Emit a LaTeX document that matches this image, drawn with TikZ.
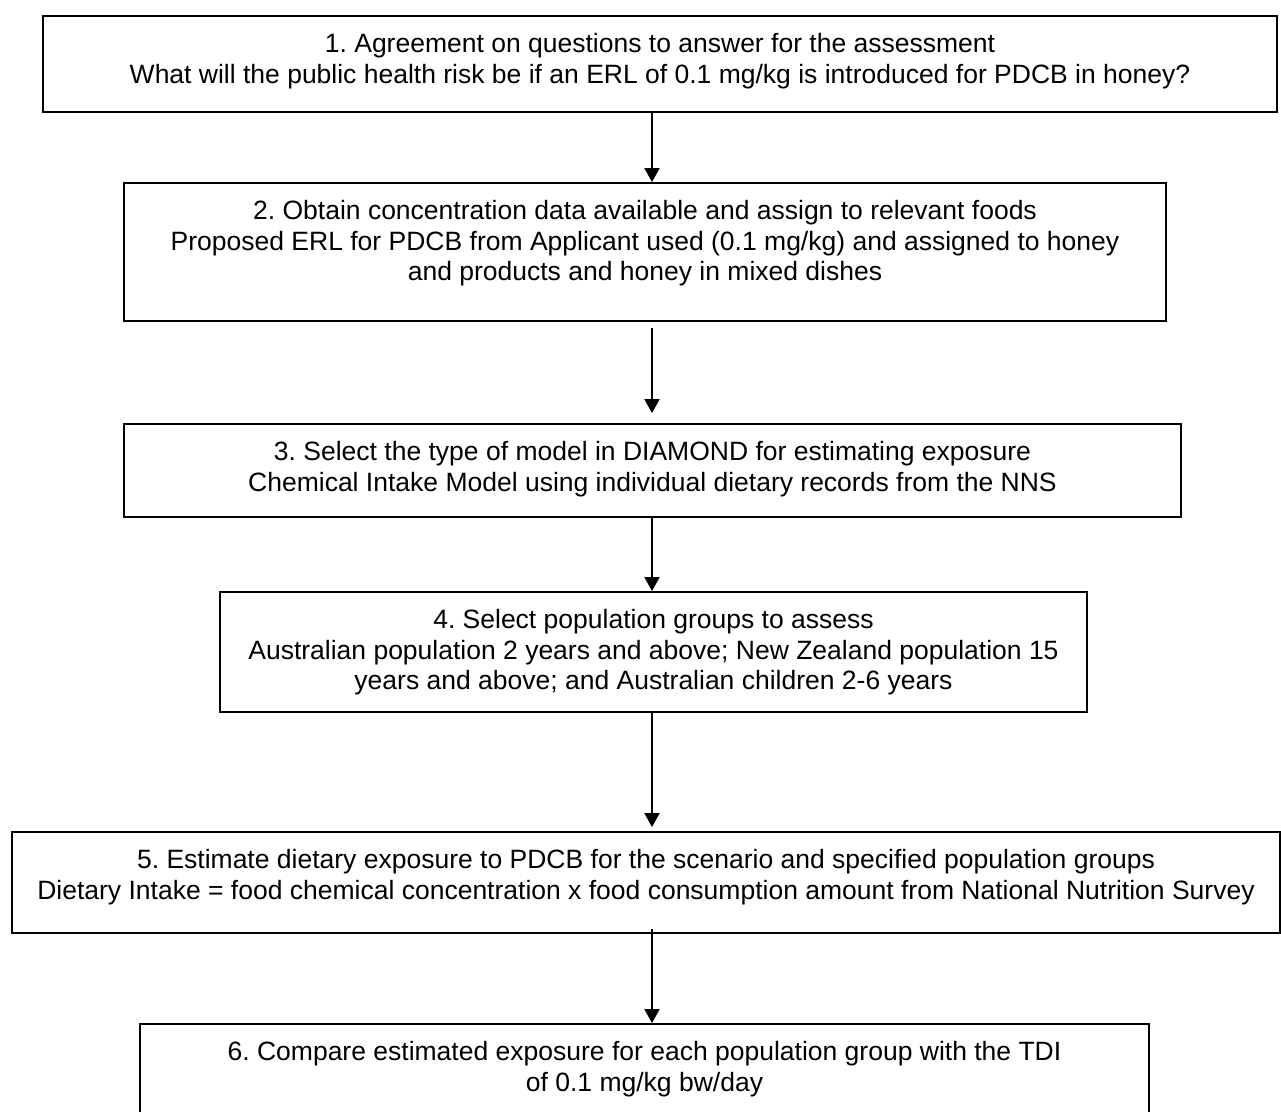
\documentclass[tikz,border=0pt]{standalone}
\usepackage{fontspec}
\setmainfont{Liberation Sans}
\usetikzlibrary{arrows.meta}
\frenchspacing
\begin{document}
\begin{tikzpicture}[x=1pt,y=-1pt,
  boxst/.style={draw, line width=1.8pt, inner sep=0pt},
  txt/.style={anchor=north, inner sep=0pt, align=center, font=\fontsize{26.5}{30.5}\selectfont},
  arr/.style={line width=1.8pt, -{Triangle[width=15pt,length=14pt]}}]
\path[use as bounding box] (0,0) rectangle (1281,1111);
\clip (0,0) rectangle (1281,1111);
\node[boxst, minimum width=1234pt, minimum height=96pt] (b1) at (660,64) {};
\node[boxst, minimum width=1042pt, minimum height=138pt] (b2) at (645,252) {};
\node[boxst, minimum width=1057pt, minimum height=93pt] (b3) at (652.5,470.5) {};
\node[boxst, minimum width=867pt, minimum height=120pt] (b4) at (653.5,652) {};
\node[boxst, minimum width=1268pt, minimum height=101pt] (b5) at (646,882.5) {};
\node[boxst, minimum width=1009pt, minimum height=116pt] (b6) at (644.5,1082) {};
\node[txt] (t1) at ([yshift=-18pt]b1.north) {1. Agreement on questions to answer for the assessment\\What will the public health risk be if an ERL of 0.1 mg/kg is introduced for PDCB in honey?};
\node[txt] (t2) at ([yshift=-18pt]b2.north) {2. Obtain concentration data available and assign to relevant foods\\Proposed ERL for PDCB from Applicant used (0.1 mg/kg) and assigned to honey\\and products and honey in mixed dishes};
\node[txt] (t3) at ([yshift=-18pt]b3.north) {3. Select the type of model in DIAMOND for estimating exposure\\Chemical Intake Model using individual dietary records from the NNS};
\node[txt] (t4) at ([yshift=-18pt]b4.north) {4. Select population groups to assess\\Australian population 2 years and above; New Zealand population 15\\years and above; and Australian children 2-6 years};
\node[txt] (t5) at ([yshift=-18pt]b5.north) {5. Estimate dietary exposure to PDCB for the scenario and specified population groups\\Dietary Intake = food chemical concentration x food consumption amount from National Nutrition Survey};
\node[txt] (t6) at ([yshift=-18pt]b6.north) {6. Compare estimated exposure for each population group with the TDI\\of 0.1 mg/kg bw/day};
\coordinate (ax) at (652,0);
\draw[arr] (b1.south -| ax) -- (b2.north -| ax);
\draw[arr] ([yshift=-6pt]b2.south -| ax) -- ([yshift=10pt]b3.north -| ax);
\draw[arr] (b3.south -| ax) -- (b4.north -| ax);
\draw[arr] (b4.south -| ax) -- ([yshift=4pt]b5.north -| ax);
\draw[arr] ([yshift=5pt]b5.south -| ax) -- (b6.north -| ax);
\end{tikzpicture}
\end{document}
